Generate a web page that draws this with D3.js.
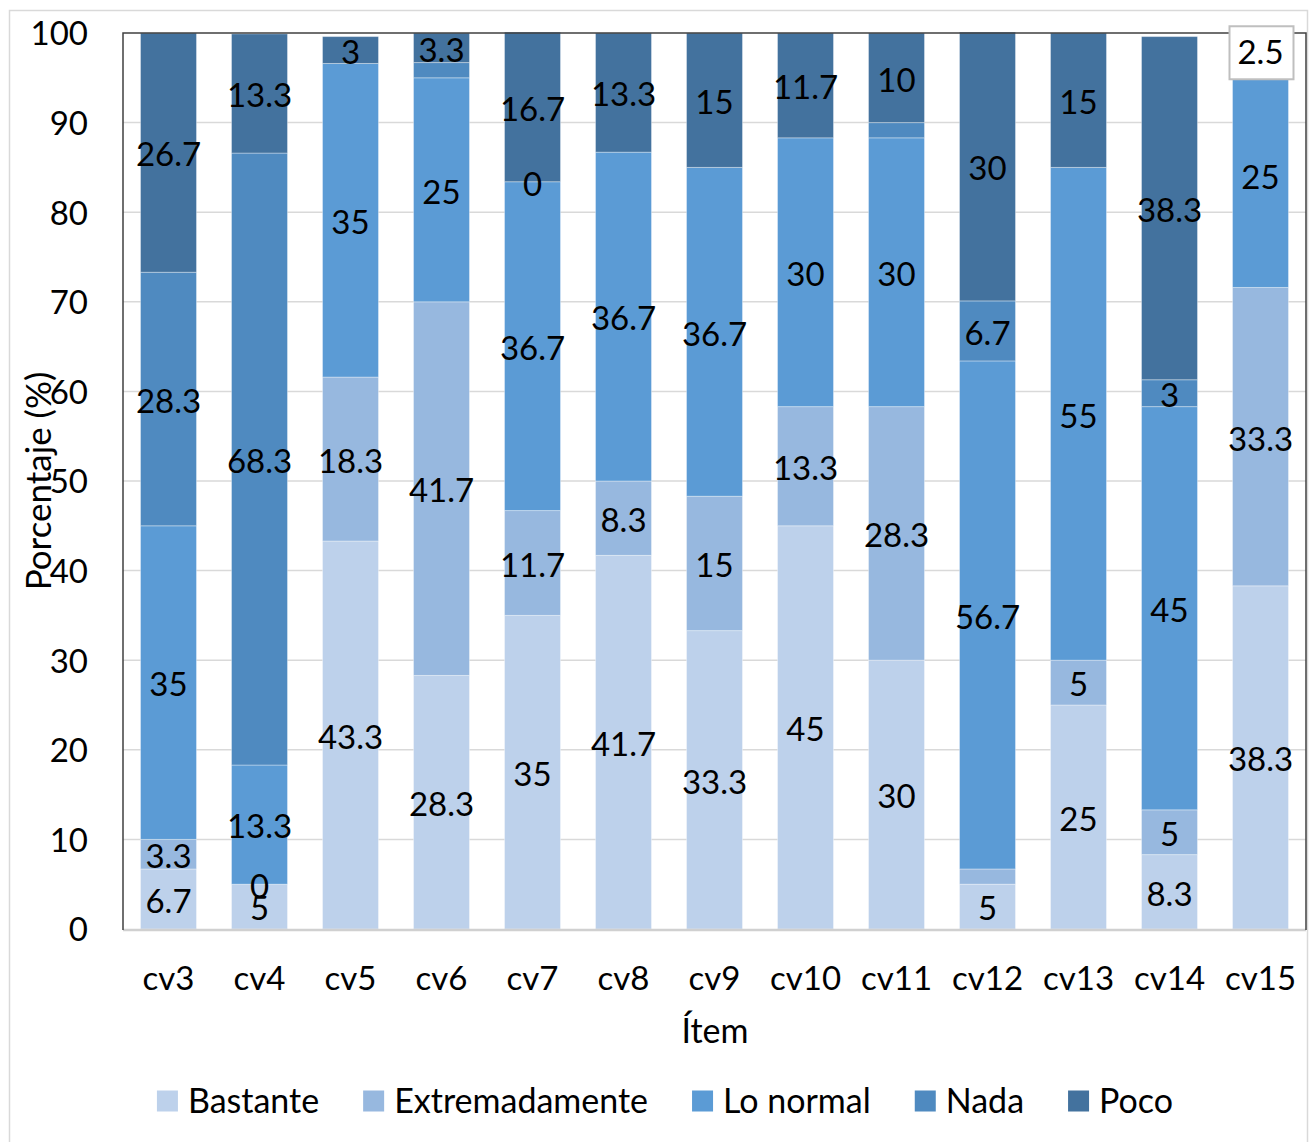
<!DOCTYPE html>
<html>
<head>
<meta charset="utf-8">
<script src="https://cdn.jsdelivr.net/npm/d3@7/dist/d3.min.js"></script>
<style>
  html, body { margin: 0; padding: 0; background: #fff; }
  svg { display: block; font-family: Lato, "Open Sans", sans-serif; }
</style>
</head>
<body>
<svg id="chart" width="1310" height="1142"></svg>
<script>
// ---- data ----
const categories = ["cv3","cv4","cv5","cv6","cv7","cv8","cv9","cv10","cv11","cv12","cv13","cv14","cv15"];
const seriesNames = ["Bastante","Extremadamente","Lo normal","Nada","Poco"];
const bastante       = [6.7, 5, 43.3, 28.3, 35, 41.7, 33.3, 45, 30, 5, 25, 8.3, 38.3];
const extremadamente = [3.3, 0, 18.3, 41.7, 11.7, 8.3, 15, 13.3, 28.3, 1.7, 5, 5, 33.3];
const loNormal       = [35, 13.3, 35, 25, 36.7, 36.7, 36.7, 30, 30, 56.7, 55, 45, 25];
const nada           = [28.3, 68.3, null, 1.7, 0, null, null, null, 1.7, 6.7, null, 3, null];
const poco           = [26.7, 13.3, 3, 3.3, 16.7, 13.3, 15, 11.7, 10, 30, 15, 38.3, 2.5];
const yTicks = [0,10,20,30,40,50,60,70,80,90,100];
const colors = ["#BDD1EB","#97B8DF","#5B9BD5","#4F8AC0","#43729E"];
const boxedLabels = [["cv15","Poco"]]; // label drawn in a white callout box

const seriesValues = [bastante, extremadamente, loNormal, nada, poco];

// ---- layout ----
const svg = d3.select("#chart");
const margin = {left: 123, right: 1306, top: 33, bottom: 929};
const FS = 33;
const FS2 = 34;

const x = d3.scaleBand().domain(categories).range([margin.left, margin.right]).paddingInner(0.385).paddingOuter(0.1925);
const y = d3.scaleLinear().domain([0, 100]).range([margin.bottom, margin.top]);
const color = d3.scaleOrdinal().domain(seriesNames).range(colors);

// outer chart border
svg.append("rect").attr("x", 9.5).attr("y", 10.5).attr("width", 1298).attr("height", 1140)
  .attr("fill", "none").attr("stroke", "#d9d9d9").attr("stroke-width", 1.5);

// gridlines
svg.append("g").selectAll("line").data(yTicks.filter(d => d > 0 && d < 100)).join("line")
  .attr("x1", margin.left).attr("x2", margin.right)
  .attr("y1", d => y(d)).attr("y2", d => y(d))
  .attr("stroke", "#d9d9d9").attr("stroke-width", 1.5);

// stacked data
const rows = categories.map((c, i) => {
  const r = {cat: c};
  seriesNames.forEach((s, k) => { r[s] = seriesValues[k][i]; });
  return r;
});
const stack = d3.stack().keys(seriesNames).value((d, key) => d[key] == null ? 0 : d[key]);
const stacked = stack(rows);

const bw = x.bandwidth();
const gBars = svg.append("g");
stacked.forEach(layer => {
  gBars.append("g").selectAll("rect").data(layer).join("rect")
    .attr("x", d => x(d.data.cat))
    .attr("width", bw)
    .attr("y", d => y(d[1]))
    .attr("height", d => Math.max(0, y(d[0]) - y(d[1])))
    .attr("fill", color(layer.key))
    .attr("stroke", "rgba(255,255,255,0.35)")
    .attr("stroke-width", 1);
});

// plot frame
svg.append("line").attr("x1", margin.left).attr("x2", margin.right).attr("y1", margin.bottom + 1).attr("y2", margin.bottom + 1)
  .attr("stroke", "#d0d0d0").attr("stroke-width", 2.5);
svg.append("path")
  .attr("d", `M${margin.left},${margin.bottom + 1}V${margin.top}H${margin.right}V${margin.bottom + 1}`)
  .attr("fill", "none").attr("stroke", "#404040").attr("stroke-width", 1.5);

// data labels
const gLab = svg.append("g");
stacked.forEach(layer => {
  layer.forEach(d => {
    const v = d.data[layer.key];
    if (v == null) return;
    if (v > 0 && v < 2) return;
    const cx = x(d.data.cat) + bw / 2;
    const cy = y((d[0] + d[1]) / 2);
    const boxed = boxedLabels.some(b => b[0] === d.data.cat && b[1] === layer.key);
    if (boxed) {
      gLab.append("rect").attr("x", cx - 31).attr("y", cy - 26).attr("width", 64).attr("height", 53)
        .attr("fill", "#fff").attr("stroke", "#bfbfbf").attr("stroke-width", 2);
    }
    gLab.append("text").attr("x", cx).attr("y", cy).attr("dy", boxed ? "0.36em" : "0.42em")
      .attr("text-anchor", "middle").attr("font-size", FS).attr("fill", "#000")
      .text(String(v));
  });
});

// y axis
const yAxis = d3.axisLeft(y).tickValues(yTicks).tickSize(0).tickPadding(0).tickFormat(d3.format("d"));
const gy = svg.append("g").attr("transform", `translate(88,0)`).call(yAxis);
gy.select(".domain").remove();
gy.selectAll("text").attr("font-size", FS).attr("font-family", "Lato").attr("fill", "#000").attr("dy", "0.36em");

// x axis
const xAxis = d3.axisBottom(x).tickSize(0).tickPadding(0);
const gx = svg.append("g").attr("transform", `translate(0,978)`).call(xAxis);
gx.select(".domain").remove();
gx.selectAll("text").attr("font-size", FS).attr("font-family", "Lato").attr("fill", "#000").attr("dy", "0.36em");

// axis titles
svg.append("text").attr("x", 715).attr("y", 1031).attr("dy", "0.36em").attr("text-anchor", "middle")
  .attr("font-size", FS2).attr("fill", "#000").text("Ítem");
svg.append("text").attr("transform", "translate(38,481) rotate(-90)").attr("dy", "0.36em")
  .attr("text-anchor", "middle").attr("font-size", FS2 + 1).attr("fill", "#000").text("Porcentaje (%)");

// legend
const gLeg = svg.append("g");
const items = [];
seriesNames.forEach(s => {
  const g = gLeg.append("g");
  g.append("rect").attr("x", 0).attr("y", -10.5).attr("width", 21).attr("height", 21).attr("fill", color(s));
  const t = g.append("text").attr("x", 31).attr("y", 0).attr("dy", "0.36em").attr("font-size", FS2).attr("fill", "#000").text(s);
  const w = 31 + t.node().getComputedTextLength();
  items.push({g, w});
});
const gap = 44;
const total = d3.sum(items, d => d.w) + gap * (items.length - 1);
let xs = 665 - total / 2;
items.forEach(it => { it.g.attr("transform", `translate(${xs},1101)`); xs += it.w + gap; });
</script>
</body>
</html>
